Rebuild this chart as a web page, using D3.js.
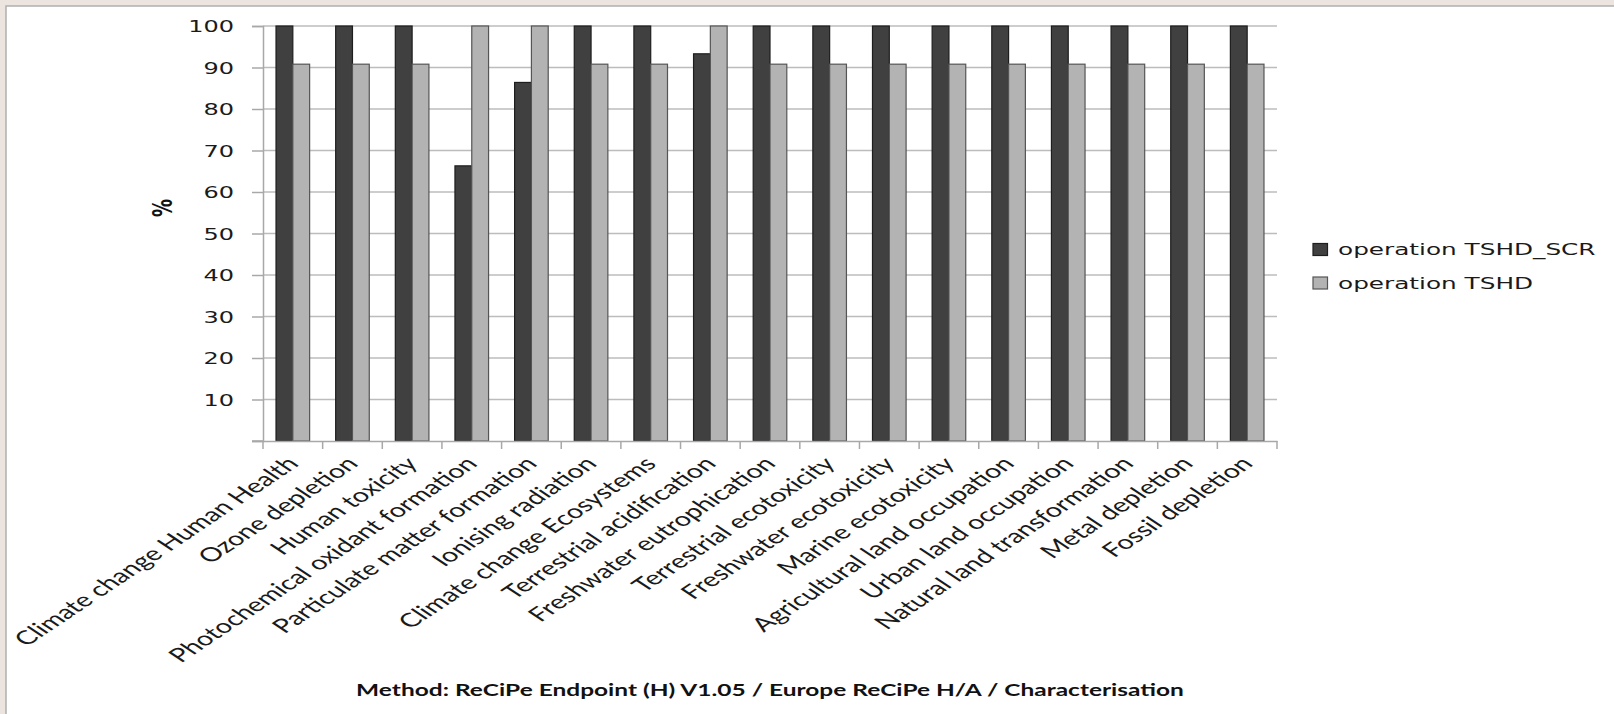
<!DOCTYPE html>
<html>
<head>
<meta charset="utf-8">
<script src="https://cdn.jsdelivr.net/npm/d3@7"></script>
<style>
  html, body { margin: 0; padding: 0; background: #ece5df; }
  svg { display: block; }
</style>
</head>
<body>
<svg id="chart" width="1614" height="714"></svg>
<script>
const categories = [
  "Climate change Human Health", "Ozone depletion", "Human toxicity",
  "Photochemical oxidant formation", "Particulate matter formation",
  "Ionising radiation", "Climate change Ecosystems", "Terrestrial acidification",
  "Freshwater eutrophication", "Terrestrial ecotoxicity", "Freshwater ecotoxicity",
  "Marine ecotoxicity", "Agricultural land occupation", "Urban land occupation",
  "Natural land transformation", "Metal depletion", "Fossil depletion"
];
const seriesNames = ["operation TSHD_SCR", "operation TSHD"];
const valuesSCR = [100, 100, 100, 66.3, 86.4, 100, 100, 93.3, 100, 100, 100, 100, 100, 100, 100, 100, 100];
const valuesTSHD = [90.8, 90.8, 90.8, 100, 100, 90.8, 90.8, 100, 90.8, 90.8, 90.8, 90.8, 90.8, 90.8, 90.8, 90.8, 90.8];
const yTicks = [0, 10, 20, 30, 40, 50, 60, 70, 80, 90, 100];
const yLabel = "%";
const footTitle = "Method: ReCiPe Endpoint (H) V1.05 / Europe ReCiPe H/A / Characterisation";

const colors = ["#404040", "#b3b3b3"];
const strokes = ["#1e1e1e", "#555555"];
const SX = 1.5; // horizontal stretch of the source image

const svg = d3.select("#chart");
// white panel with grey left/top border
svg.append("rect").attr("x", 6).attr("y", 6).attr("width", 1614).attr("height", 714)
  .attr("fill", "#ffffff").attr("stroke", "#b4b4b4").attr("stroke-width", 1.6);

const margin = { left: 263, top: 26 };
const W = 1277 - 263, H = 441 - 26;
const g = svg.append("g").attr("transform", `translate(${margin.left},${margin.top})`);

const x0 = d3.scaleBand().domain(categories).range([0, W]).padding(0);
const x1 = d3.scaleBand().domain(seriesNames).range([0, x0.bandwidth()]).paddingInner(0).paddingOuter(0.775);
const y = d3.scaleLinear().domain([0, 100]).range([H, 0]);

// gridlines
g.append("g").selectAll("line").data(yTicks.filter(d => d > 0)).join("line")
  .attr("x1", 0).attr("x2", W).attr("y1", d => y(d)).attr("y2", d => y(d))
  .attr("stroke", "#bcbcbc").attr("stroke-width", 1.5);

// y axis
const yAxis = g.append("g").call(d3.axisLeft(y).tickValues(yTicks).tickSize(11).tickFormat(d => d === 0 ? "" : d));
yAxis.select(".domain").attr("stroke", "#a8a8a8").attr("stroke-width", 1.5);
yAxis.selectAll(".tick line").attr("stroke", "#a8a8a8").attr("stroke-width", 1.5);
yAxis.selectAll(".tick text")
  .attr("x", 0).attr("dy", "0.36em")
  .attr("transform", `translate(-29,0) scale(${SX},1)`)
  .attr("text-anchor", "end")
  .attr("fill", "#1a1a1a")
  .style("font-family", "DejaVu Sans").style("font-size", "16px");

// bars
const groups = g.append("g").selectAll("g").data(categories).join("g")
  .attr("transform", d => `translate(${x0(d)},0)`);
groups.selectAll("rect").data((d, i) => [valuesSCR[i], valuesTSHD[i]].map((v, k) => ({ k, v })))
  .join("rect")
  .attr("x", d => x1(seriesNames[d.k]))
  .attr("width", x1.bandwidth())
  .attr("y", d => y(d.v))
  .attr("height", d => H - y(d.v))
  .attr("fill", d => colors[d.k])
  .attr("stroke", d => strokes[d.k]).attr("stroke-width", 1.2);

// x axis
const xAxis = g.append("g").attr("transform", `translate(0,${H})`)
  .call(d3.axisBottom(x0).tickSize(0).tickSizeOuter(0));
xAxis.select(".domain").attr("stroke", "#a8a8a8").attr("stroke-width", 1.5);
xAxis.selectAll(".tick line").remove();
// category boundary ticks
g.append("g").selectAll("line").data(d3.range(categories.length + 1)).join("line")
  .attr("x1", i => i * x0.step()).attr("x2", i => i * x0.step())
  .attr("y1", H).attr("y2", H + 8)
  .attr("stroke", "#a8a8a8").attr("stroke-width", 1.5);
g.append("line").attr("x1", -11).attr("x2", 0).attr("y1", H).attr("y2", H)
  .attr("stroke", "#a8a8a8").attr("stroke-width", 1.5);

xAxis.selectAll(".tick text")
  .attr("x", 0).attr("y", 0).attr("dy", 0)
  .attr("transform", `translate(7,24) scale(${SX},1) rotate(-45)`)
  .attr("text-anchor", "end")
  .attr("fill", "#1a1a1a")
  .style("font-family", "Lato").style("font-size", "19.3px");

// y label
svg.append("text").text(yLabel)
  .attr("transform", "translate(172,208) rotate(-90) scale(1,1.5)")
  .attr("text-anchor", "middle")
  .style("font-family", "DejaVu Sans").style("font-weight", "bold").style("font-size", "18px")
  .attr("fill", "#111");

// legend
const leg = svg.append("g").attr("transform", "translate(1313,0)");
seriesNames.forEach((s, i) => {
  const cy = 249.5 + i * 33.5;
  leg.append("rect").attr("x", 0).attr("y", cy - 6).attr("width", 14.5).attr("height", 12)
    .attr("fill", colors[i]).attr("stroke", strokes[i]).attr("stroke-width", 1.2);
  leg.append("text").text(s)
    .attr("transform", `translate(25,${cy}) scale(${SX},1)`)
    .attr("dy", "0.36em")
    .attr("fill", "#1a1a1a")
    .style("font-family", "DejaVu Sans").style("font-size", "16.5px");
});

// bottom title
svg.append("text").text(footTitle)
  .attr("transform", `translate(770,696) scale(1.4,1)`)
  .attr("text-anchor", "middle")
  .attr("fill", "#111")
  .style("font-family", "Lato").style("font-weight", "bold").style("font-size", "17.5px");
</script>
</body>
</html>
